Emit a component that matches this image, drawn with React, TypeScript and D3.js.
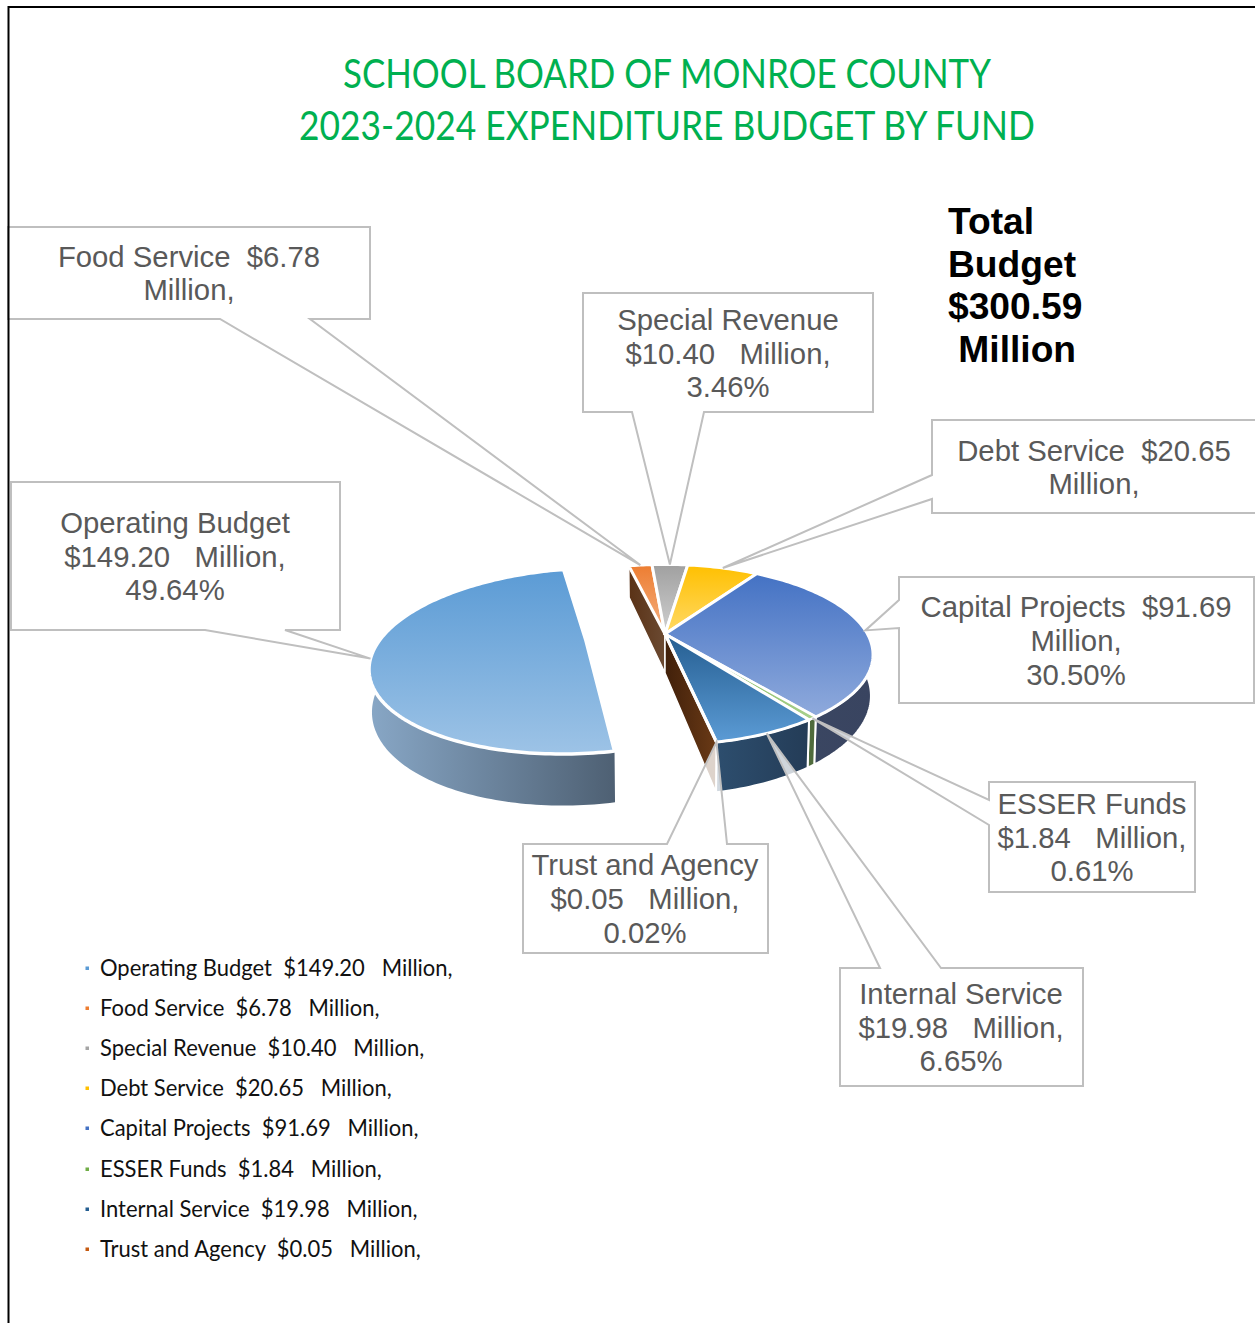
import React from "react";
import * as d3 from "d3";

const funds = ["Operating Budget","Food Service","Special Revenue","Debt Service","Capital Projects","ESSER Funds","Internal Service","Trust and Agency"];
const amounts = [149.20,6.78,10.40,20.65,91.69,1.84,19.98,0.05];
const amountLabels = ["$149.20","$6.78","$10.40","$20.65","$91.69","$1.84","$19.98","$0.05"];
const topDark = ["#5b9bd5","#ed7d31","#a0a0a0","#ffc000","#4472c4","#70ad47","#255e91","#9e480e"];
const topLight = ["#9dc3e6","#f4b183","#d0d0d0","#ffd966","#8faadc","#a9d18e","#5b9bd5","#c55a11"];
const sideLeft = ["#88a7c6","#7a4a20","#666","#8a6a10","#3b4863","#4f6b3c","#2d4e6e","#5a3418"];
const sideRight = ["#4e6073","#7a4a20","#666","#8a6a10","#394460","#4f6b3c","#243c57","#5a3418"];
const legendColors = ["#5b9bd5","#ed7d31","#a5a5a5","#ffc000","#4472c4","#70ad47","#255e91","#c55a11"];
const legendRows = [968,1008,1048,1088,1128,1169,1209,1249];

const titleLines = ["SCHOOL BOARD OF MONROE COUNTY","2023-2024 EXPENDITURE BUDGET BY FUND"];
const totalLines = ["Total","Budget","$300.59"," Million"];

const labels = [
  {i:0,box:[11,482,340,630],base:[[285,630],[205,630]],cx:175,ys:[523,557,590],lines:["Operating Budget","$149.20   Million,","49.64%"]},
  {i:1,box:[8,227,370,319],base:[[310,319],[220,319]],cx:189,ys:[257,290],lines:["Food Service  $6.78","Million,"]},
  {i:2,box:[583,293,873,412],base:[[704,412],[632,412]],cx:728,ys:[320,354,387],lines:["Special Revenue","$10.40   Million,","3.46%"]},
  {i:3,box:[932,420,1270,513],base:[[932,499],[932,475]],cx:1094,ys:[451,484],lines:["Debt Service  $20.65","Million,"]},
  {i:4,box:[899,577,1254,703],base:[[899,628],[899,600]],cx:1076,ys:[607,641,675],lines:["Capital Projects  $91.69","Million,","30.50%"]},
  {i:5,box:[989,782,1195,892],base:[[989,825],[989,800]],cx:1092,ys:[804,838,871],lines:["ESSER Funds","$1.84   Million,","0.61%"]},
  {i:6,box:[840,968,1083,1086],base:[[941,968],[880,968]],cx:961,ys:[994,1028,1061],lines:["Internal Service","$19.98   Million,","6.65%"]},
  {i:7,box:[523,844,768,953],base:[[727,844],[667,844]],cx:645,ys:[865,899,933],lines:["Trust and Agency","$0.05   Million,","0.02%"]},
];

const W = 1255, H = 1323;
const CX = 665, CY = 634, RX = 202.5, RY = 85.5, K = 0.229, DEPTH = 39, EXPLODE = 0.395, LIFT = 0.02;
const START = (168.66 * Math.PI) / 180;

type Pt = [number, number];
function project(u: number, v: number): Pt {
  const w = 1 + K * v;
  return [CX + (RX * u) / w, CY - (RY * v) / w];
}
function lower(u: number, v: number): Pt {
  const w = 1 + K * v;
  const [x, y] = project(u, v);
  return [CX + (x - CX) * 0.99, y + DEPTH / w];
}
const pieGen = d3.pie<number>().sort(null).startAngle(START).endAngle(START + 2 * Math.PI);
const arcs = pieGen(amounts);
const line = d3.line<Pt>().curve(d3.curveLinear);

function rim(a0: number, a1: number): [number, number][] {
  const n = Math.max(2, Math.ceil((a1 - a0) / 0.02));
  return d3.range(n + 1).map((k) => {
    const a = a0 + ((a1 - a0) * k) / n;
    return [Math.sin(a), Math.cos(a)] as [number, number];
  });
}
function offsetOf(i: number): [number, number] {
  if (i !== 0) return [0, 0];
  const m = (arcs[0].startAngle + arcs[0].endAngle) / 2;
  return [Math.sin(m) * EXPLODE, Math.cos(m) * EXPLODE + LIFT];
}
function topPath(i: number) {
  const [ou, ov] = offsetOf(i);
  const r = rim(arcs[i].startAngle, arcs[i].endAngle).map(([u, v]) => project(u + ou, v + ov));
  return line([project(ou, ov), ...r])! + "Z";
}
function sidePath(i: number) {
  const [ou, ov] = offsetOf(i);
  const pts = rim(arcs[i].startAngle, arcs[i].endAngle);
  const a = pts.map(([u, v]) => project(u + ou, v + ov));
  const b = pts.map(([u, v]) => lower(u + ou, v + ov)).reverse();
  return line([...a, ...b])! + "Z";
}
function wallPath(angle: number) {
  const u = Math.sin(angle), v = Math.cos(angle);
  return line([project(0, 0), project(u, v), lower(u, v), lower(0, 0)])! + "Z";
}
function tipOf(i: number): Pt {
  const [ou, ov] = offsetOf(i);
  const m = (arcs[i].startAngle + arcs[i].endAngle) / 2;
  return project(Math.sin(m) + ou, Math.cos(m) + ov);
}
function calloutPath(l: (typeof labels)[number]) {
  const [x0, y0, x1, y1] = l.box;
  const tip = tipOf(l.i);
  const [a, b] = l.base;
  const corners: Pt[] = [[x0, y0], [x1, y0], [x1, y1], [x0, y1]];
  const seq: Pt[] = [];
  corners.forEach((c, k) => {
    seq.push(c);
    const next = corners[(k + 1) % 4];
    const onEdge = (p: number[]) =>
      (c[0] === next[0] && p[0] === c[0]) || (c[1] === next[1] && p[1] === c[1]);
    if (onEdge(a)) {
      const d = (p: number[]) => Math.abs(p[0] - c[0]) + Math.abs(p[1] - c[1]);
      const [f, s] = d(a) < d(b) ? [a, b] : [b, a];
      seq.push(f as Pt, tip, s as Pt);
    }
  });
  return line(seq)! + "Z";
}

const VISIBLE_SIDES = [4, 5, 6];
const RIGHT = [1, 2, 3, 4, 5, 6, 7];
const LABEL_FONT = "'Liberation Sans', Arial, sans-serif";

export default function App() {
  const food = arcs[1].startAngle;
  const internalEnd = arcs[6].endAngle;
  return (
    <svg width={W} height={H} style={{ position: "absolute", left: 0, top: 0, background: "#fff" }}>
      <defs>
        {funds.map((_, i) => (
          <React.Fragment key={i}>
            <linearGradient id={`top${i}`} x1="0" y1="0" x2="0" y2="1">
              <stop offset="0" stopColor={topDark[i]} />
              <stop offset="1" stopColor={topLight[i]} />
            </linearGradient>
            <linearGradient id={`side${i}`} x1="0" y1="0" x2="1" y2="0">
              <stop offset="0" stopColor={sideLeft[i]} />
              <stop offset="1" stopColor={sideRight[i]} />
            </linearGradient>
          </React.Fragment>
        ))}
        <linearGradient id="wallA" x1="0" y1="0" x2="1" y2="0">
          <stop offset="0" stopColor="#5a3216" />
          <stop offset="1" stopColor="#6b4a32" />
        </linearGradient>
        <linearGradient id="wallB" x1="0" y1="0" x2="1" y2="0">
          <stop offset="0" stopColor="#41200a" />
          <stop offset="1" stopColor="#6a3a16" />
        </linearGradient>
      </defs>

      <path d={wallPath(food)} fill="url(#wallA)" stroke="#fff" strokeWidth={1.5} strokeLinejoin="round" />
      <path d={wallPath(internalEnd)} fill="url(#wallB)" stroke="#fff" strokeWidth={1.5} strokeLinejoin="round" />
      {VISIBLE_SIDES.map((i) => (
        <path key={i} d={sidePath(i)} fill={`url(#side${i})`} stroke="#fff" strokeWidth={2} strokeLinejoin="round" />
      ))}
      {RIGHT.map((i) => (
        <path key={i} d={topPath(i)} fill={`url(#top${i})`} stroke="#fff" strokeWidth={i === 5 ? 2.5 : 3} strokeLinejoin="round" />
      ))}
      <path d={sidePath(0)} fill="url(#side0)" />
      <path d={topPath(0)} fill="url(#top0)" stroke="#fff" strokeWidth={3.5} strokeLinejoin="round" />

      <text textAnchor="middle" fontFamily="Lato, sans-serif" fontSize={40} fill="#00b050">
        <tspan x={667} y={88} textLength={648} lengthAdjust="spacingAndGlyphs">{titleLines[0]}</tspan>
        <tspan x={667} y={140} textLength={736} lengthAdjust="spacingAndGlyphs">{titleLines[1]}</tspan>
      </text>

      {labels.map((l) => (
        <g key={l.i}>
          <path d={calloutPath(l)} fill="#fff" fillOpacity={0.78} stroke="#bfbfbf" strokeWidth={2} />
          <text textAnchor="middle" fontFamily={LABEL_FONT} fontSize={29.3} fill="#595959" style={{ whiteSpace: "pre" }}>
            {l.lines.map((t, k) => (
              <tspan key={k} x={l.cx} y={l.ys[k] + 10}>{t}</tspan>
            ))}
          </text>
        </g>
      ))}

      <text fontFamily={LABEL_FONT} fontWeight="bold" fontSize={37.2} fill="#000" style={{ whiteSpace: "pre" }}>
        {totalLines.map((t, k) => (
          <tspan key={k} x={948} y={234 + k * 42.7}>{t}</tspan>
        ))}
      </text>

      {funds.map((f, i) => (
        <g key={f}>
          <rect x={85.5} y={legendRows[i] - 1.5} width={3.5} height={3.5} fill={legendColors[i]} />
          <text
            transform={`translate(100,${legendRows[i] + 8}) scale(0.977,1)`}
            fontFamily="Lato, sans-serif"
            fontSize={22.5}
            fill="#111"
            style={{ whiteSpace: "pre" }}
          >
            {`${f}  ${amountLabels[i]}   Million,`}
          </text>
        </g>
      ))}

      <path d={`M${W},7H8.5V${H}`} fill="none" stroke="#000" strokeWidth={2} />
    </svg>
  );
}
